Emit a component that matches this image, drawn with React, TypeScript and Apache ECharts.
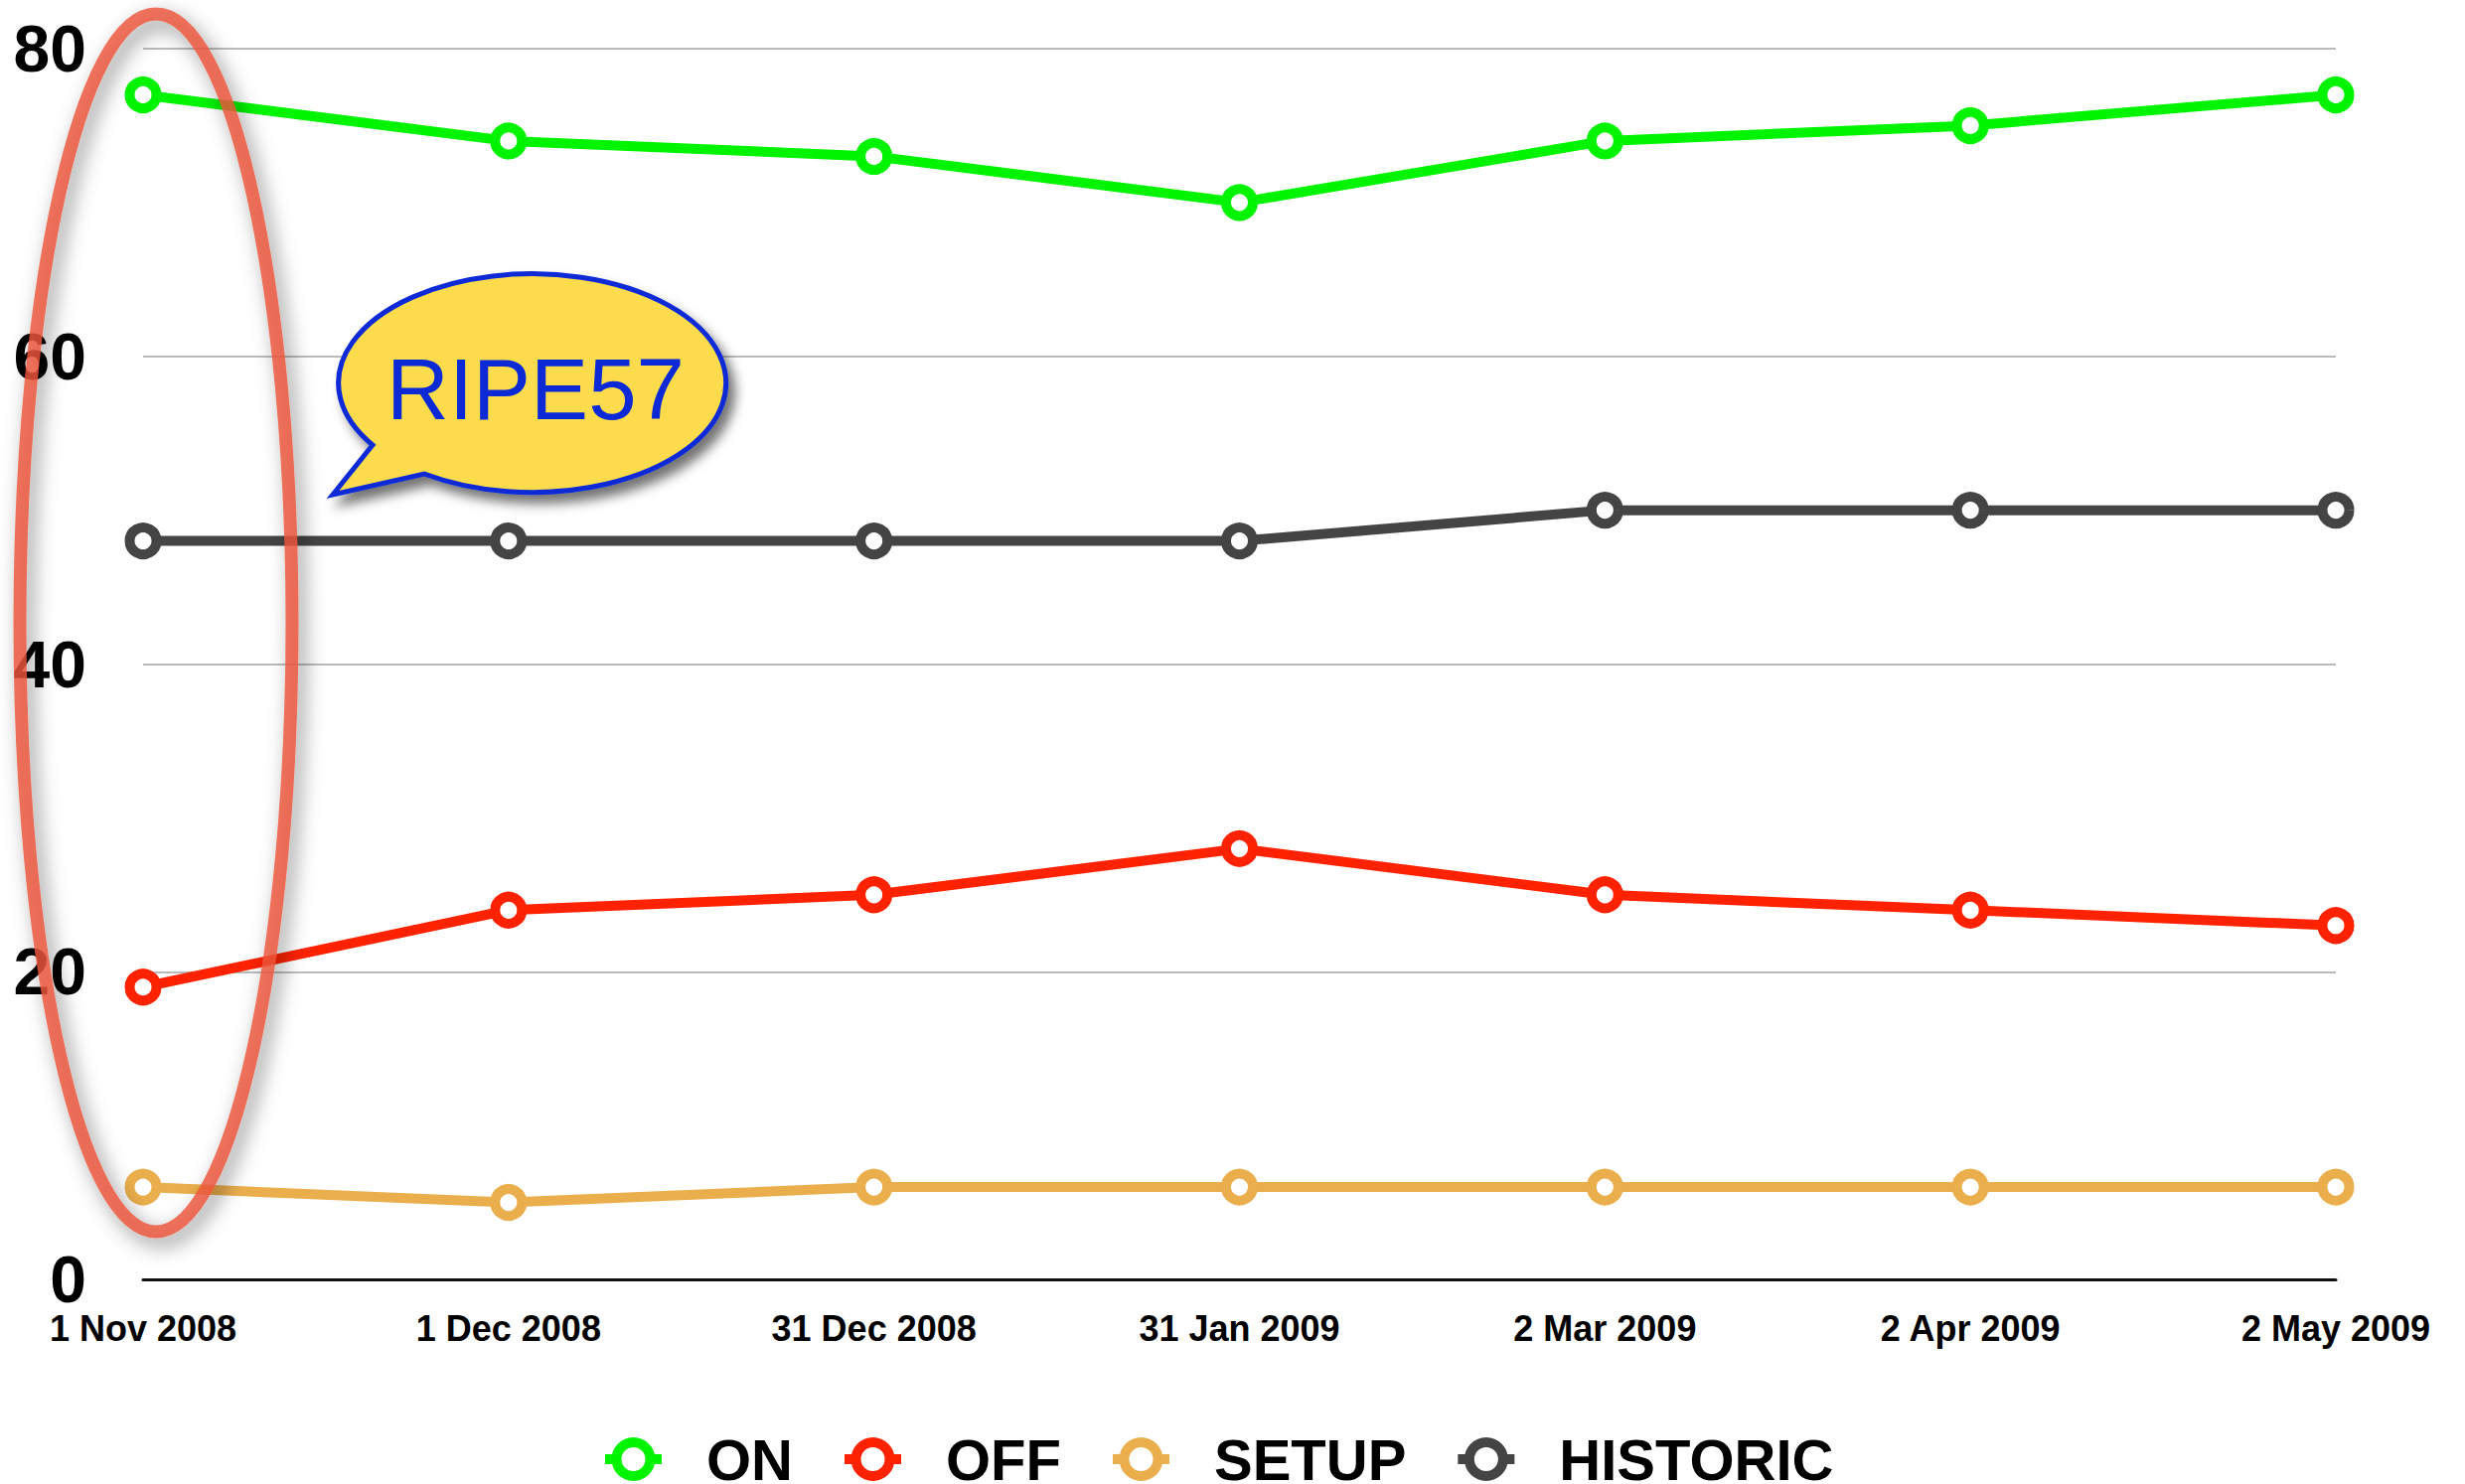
import React, { useEffect, useRef } from "react";
import * as echarts from "echarts";

const categories = ["1 Nov 2008", "1 Dec 2008", "31 Dec 2008", "31 Jan 2009", "2 Mar 2009", "2 Apr 2009", "2 May 2009"];
const seriesNames = ["ON", "OFF", "SETUP", "HISTORIC"];
const seriesColors = ["#00f400", "#ff2200", "#ebae4c", "#444444"];
const onValues = [77, 74, 73, 70, 74, 75, 77];
const offValues = [19, 24, 25, 28, 25, 24, 23];
const setupValues = [6, 5, 6, 6, 6, 6, 6];
const historicValues = [48, 48, 48, 48, 50, 50, 50];
const yMin = 0;
const yMax = 80;
const yStep = 20;
const calloutText = "RIPE57";

const FONT = '"Liberation Sans", Arial, Helvetica, sans-serif';

const bubblePath = "M375,448 L335,498 L427,477 A195,110 0 1 0 375,448 Z";
echarts.graphic.registerShape("ripeBubble", echarts.graphic.extendPath(bubblePath, {}));

const legendIconPath =
  "path://M0,17 L10,17 L10,27 L0,27 Z M47,17 L57,17 L57,27 L47,27 Z " +
  "M6.5,22 A22,22 0 1 1 50.5,22 A22,22 0 1 1 6.5,22 Z " +
  "M16.5,22 A12,12 0 1 0 40.5,22 A12,12 0 1 0 16.5,22 Z";

export default function App() {
  const ref = useRef<HTMLDivElement>(null);
  useEffect(() => {
    document.body.style.margin = "0";
    const chart = echarts.init(ref.current!, null, { renderer: "svg" });
    const allValues = [onValues, offValues, setupValues, historicValues];
    const series = seriesNames.map((name, i) => ({
      name,
      type: "line",
      data: allValues[i],
      symbol: "circle",
      symbolSize: 27,
      showSymbol: true,
      lineStyle: { color: seriesColors[i], width: 10 },
      itemStyle: { color: "#ffffff", borderColor: seriesColors[i], borderWidth: 10 },
      emphasis: { disabled: true },
      z: 3 + i,
    }));
    chart.setOption({
      animation: false,
      color: seriesColors,
      textStyle: { fontFamily: FONT },
      grid: { left: 144, right: 130, top: 49, bottom: 206, containLabel: false },
      xAxis: {
        type: "category",
        data: categories,
        boundaryGap: false,
        axisLine: { show: true, lineStyle: { color: "#111111", width: 3 } },
        axisTick: { show: false },
        splitLine: { show: false },
        axisLabel: {
          interval: 0,
          margin: 31,
          fontSize: 36,
          lineHeight: 36,
          fontWeight: "bold",
          color: "#000000",
          fontFamily: FONT,
        },
      },
      yAxis: {
        type: "value",
        min: yMin,
        max: yMax,
        interval: yStep,
        axisLine: { show: false },
        axisTick: { show: false },
        axisLabel: {
          margin: 57,
          fontSize: 66,
          lineHeight: 50,
          fontWeight: "bold",
          color: "#000000",
          fontFamily: FONT,
        },
        splitLine: { show: true, lineStyle: { color: "#bbbbbb", width: 2 } },
      },
      legend: {
        left: 604,
        top: 1435,
        itemWidth: 57,
        itemHeight: 44,
        itemGap: 52,
        data: seriesNames.map((name, i) => ({
          name,
          icon: legendIconPath,
          itemStyle: { color: seriesColors[i], borderWidth: 0 },
        })),
        textStyle: {
          fontSize: 58,
          lineHeight: 56,
          fontWeight: "bold",
          color: "#000000",
          fontFamily: FONT,
          padding: [0, 0, 0, 40],
        },
      },
      series,
      graphic: [
        {
          type: "ellipse",
          z: 100,
          shape: { cx: 157, cy: 627, rx: 137, ry: 613 },
          style: {
            fill: "none",
            stroke: "rgba(236, 84, 58, 0.82)",
            lineWidth: 13,
            shadowBlur: 20,
            shadowColor: "rgba(0,0,0,0.5)",
            shadowOffsetX: 6,
            shadowOffsetY: 8,
          },
        },
        {
          type: "ripeBubble",
          z: 100,
          x: 0,
          y: 0,
          style: {
            fill: "#fcdc4d",
            stroke: "#0b2ad6",
            lineWidth: 5,
            shadowBlur: 12,
            shadowColor: "rgba(0,0,0,0.55)",
            shadowOffsetX: 7,
            shadowOffsetY: 9,
          },
        },
        {
          type: "text",
          z: 101,
          x: 539,
          y: 391,
          style: {
            text: calloutText,
            font: 'normal 87px "Liberation Sans", Arial, sans-serif',
            fill: "#0b2ad6",
            align: "center",
            verticalAlign: "middle",
            textAlign: "center",
            textVerticalAlign: "middle",
          },
        },
      ],
    });
    return () => chart.dispose();
  }, []);
  return <div ref={ref} style={{ width: 2481, height: 1494 }} />;
}
